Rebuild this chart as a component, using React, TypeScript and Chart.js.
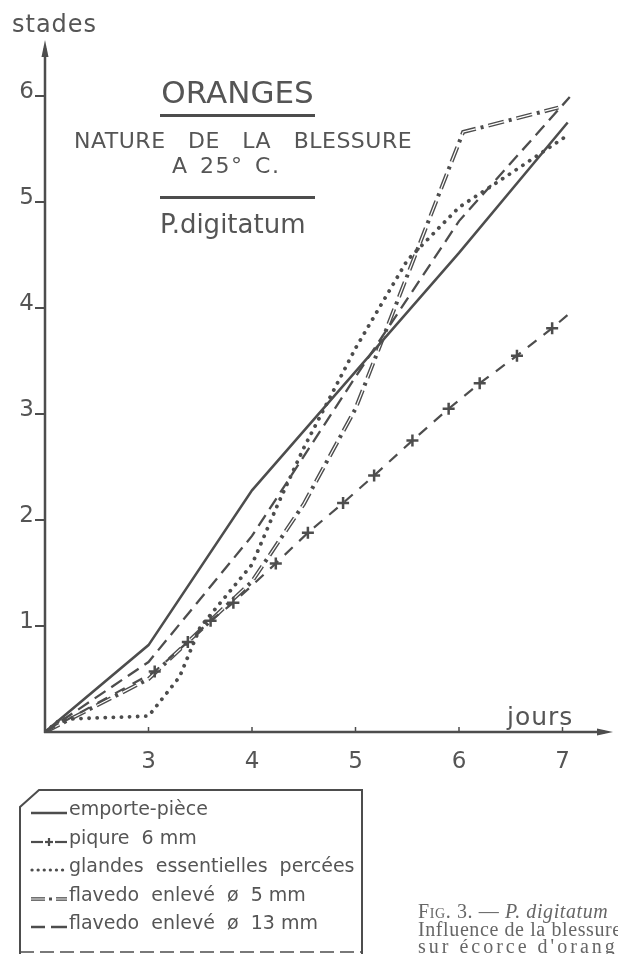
import React, { useEffect, useRef } from "react";
import { Chart, registerables } from "chart.js";

Chart.register(...registerables);

// ---------- data (days, stades) ----------
const X_TICKS = [3, 4, 5, 6, 7];
const Y_TICKS = [1, 2, 3, 4, 5, 6];

const emporteDays = [2, 3, 4, 5, 6, 7.05];
const emporteStades = [0, 0.82, 2.28, 3.4, 4.52, 5.75];

const piqureDays = [2, 3.06, 3.38, 3.6, 3.82, 4.23, 4.54, 4.88, 5.18, 5.55, 5.9, 6.2, 6.56, 6.9, 7.08];
const piqureStades = [0, 0.57, 0.85, 1.05, 1.22, 1.59, 1.88, 2.16, 2.42, 2.75, 3.05, 3.29, 3.55, 3.81, 3.96];

const glandesDays = [2, 2.15, 3, 3.3, 3.5, 4, 4.25, 4.5, 5, 5.5, 6, 6.5, 7.05];
const glandesStades = [0, 0.12, 0.15, 0.52, 0.99, 1.58, 2.15, 2.68, 3.62, 4.45, 4.95, 5.27, 5.63];

const flavedo5Days = [2, 3, 4, 4.5, 5, 6.04, 6.96];
const flavedo5Stades = [0, 0.5, 1.42, 2.15, 3.05, 5.66, 5.89];

const flavedo13Days = [2, 3, 4, 5, 6, 7.07];
const flavedo13Stades = [0, 0.66, 1.85, 3.35, 4.82, 5.99];

const LEGEND_LABELS = [
  "emporte-pièce",
  "piqure  6 mm",
  "glandes  essentielles  percées",
  "flavedo  enlevé  ø  5 mm",
  "flavedo  enlevé  ø  13 mm",
];

const INK = "#4d4d4d";
const TEXT = "#555555";
const FONT = "'DejaVu Sans', sans-serif";

const CANVAS_W = 618;
const CANVAS_H = 790;
const AREA_LEFT = 45;
const AREA_TOP = 40;
const AREA_BOTTOM = 732;
const AREA_RIGHT = 613;
const X_MIN = 2;
const X_MAX = 2 + (AREA_RIGHT - AREA_LEFT) / 103.5;
const Y_MAX = (AREA_BOTTOM - AREA_TOP) / 106;

const pts = (xs: number[], ys: number[]) => xs.map((x, i) => ({ x, y: ys[i] }));

const axisPlugin = {
  id: "axisArrows",
  afterDraw(chart: any) {
    const { ctx, scales } = chart;
    const xs = scales.x;
    const ys = scales.y;
    const x0 = xs.left;
    const y0 = ys.bottom;
    ctx.save();
    ctx.strokeStyle = INK;
    ctx.fillStyle = INK;
    ctx.lineWidth = 2.5;
    ctx.lineCap = "butt";
    ctx.beginPath();
    ctx.moveTo(x0 - 1, y0);
    ctx.lineTo(xs.right - 8, y0);
    ctx.stroke();
    ctx.beginPath();
    ctx.moveTo(x0, y0 + 1);
    ctx.lineTo(x0, ys.top + 8);
    ctx.stroke();
    // arrow heads
    ctx.beginPath();
    ctx.moveTo(xs.right, y0);
    ctx.lineTo(xs.right - 16, y0 - 3.5);
    ctx.lineTo(xs.right - 16, y0 + 3.5);
    ctx.closePath();
    ctx.fill();
    ctx.beginPath();
    ctx.moveTo(x0, ys.top);
    ctx.lineTo(x0 - 3.5, ys.top + 17);
    ctx.lineTo(x0 + 3.5, ys.top + 17);
    ctx.closePath();
    ctx.fill();
    // small upward tick marks on x axis
    ctx.lineWidth = 1.5;
    X_TICKS.forEach((v) => {
      const px = xs.getPixelForValue(v);
      ctx.beginPath();
      ctx.moveTo(px, y0);
      ctx.lineTo(px, y0 - 5);
      ctx.stroke();
    });
    ctx.restore();
  },
};

function ChartCanvas() {
  const ref = useRef<HTMLCanvasElement | null>(null);
  useEffect(() => {
    if (!ref.current) return;
    const lastIdx = piqureDays.length - 1;
    const chart = new Chart(ref.current, {
      type: "scatter",
      data: {
        datasets: [
          {
            label: LEGEND_LABELS[0],
            data: pts(emporteDays, emporteStades),
            showLine: true,
            borderColor: INK,
            borderWidth: 2.5,
            pointRadius: 0,
            order: 0,
          },
          {
            label: LEGEND_LABELS[1],
            data: pts(piqureDays, piqureStades),
            showLine: true,
            borderColor: INK,
            borderWidth: 2.2,
            borderDash: [11, 9],
            pointStyle: "cross",
            pointRadius: (c: any) => (c.dataIndex === 0 || c.dataIndex === lastIdx ? 0 : 6),
            pointBorderColor: INK,
            pointBorderWidth: 2.5,
            pointBackgroundColor: INK,
            order: 0,
          },
          {
            label: LEGEND_LABELS[2],
            data: pts(glandesDays, glandesStades),
            showLine: true,
            borderColor: INK,
            borderWidth: 3.8,
            borderDash: [0.1, 8],
            borderCapStyle: "round",
            pointRadius: 0,
            order: 0,
          },
          {
            label: LEGEND_LABELS[3],
            data: pts(flavedo5Days, flavedo5Stades),
            showLine: true,
            borderColor: INK,
            borderWidth: 4,
            borderDash: [16, 5, 3, 5],
            pointRadius: 0,
            order: 2,
          },
          {
            label: "_inner",
            data: pts(flavedo5Days, flavedo5Stades),
            showLine: true,
            borderColor: "#ffffff",
            borderWidth: 1.2,
            borderDash: [16, 13],
            pointRadius: 0,
            order: 1,
          },
          {
            label: LEGEND_LABELS[4],
            data: pts(flavedo13Days, flavedo13Stades),
            showLine: true,
            borderColor: INK,
            borderWidth: 2.3,
            borderDash: [13, 7],
            pointRadius: 0,
            order: 0,
          },
        ],
      },
      options: {
        animation: false,
        responsive: false,
        events: [],
        layout: { padding: { top: AREA_TOP, right: CANVAS_W - AREA_RIGHT, left: 0, bottom: 0 } },
        plugins: { legend: { display: false }, tooltip: { enabled: false }, title: { display: false } },
        scales: {
          x: {
            type: "linear",
            min: X_MIN,
            max: X_MAX,
            border: { display: false },
            grid: { display: false, drawTicks: false },
            afterBuildTicks: (s: any) => {
              s.ticks = X_TICKS.map((v) => ({ value: v }));
            },
            afterFit: (s: any) => {
              s.height = CANVAS_H - AREA_BOTTOM;
            },
            ticks: {
              color: TEXT,
              font: { family: FONT, size: 23 },
              padding: 16,
              maxRotation: 0,
              autoSkip: false,
              callback: (v: any) => String(v),
            },
          },
          y: {
            type: "linear",
            min: 0,
            max: Y_MAX,
            border: { display: false },
            grid: {
              display: true,
              drawOnChartArea: false,
              drawTicks: true,
              tickLength: 10,
              color: INK,
              lineWidth: 2,
            },
            afterBuildTicks: (s: any) => {
              s.ticks = Y_TICKS.map((v) => ({ value: v }));
            },
            afterFit: (s: any) => {
              s.width = AREA_LEFT;
            },
            ticks: {
              color: TEXT,
              font: { family: FONT, size: 23 },
              padding: 1,
              labelOffset: -4,
              autoSkip: false,
              callback: (v: any) => String(v),
            },
          },
        },
      } as any,
      plugins: [axisPlugin],
    });
    return () => chart.destroy();
  }, []);
  return (
    <canvas
      ref={ref}
      width={CANVAS_W}
      height={CANVAS_H}
      style={{ position: "absolute", left: 0, top: 0, width: CANVAS_W, height: CANVAS_H }}
    />
  );
}

const abs = (left: number, top: number, extra: React.CSSProperties = {}): React.CSSProperties => ({
  position: "absolute",
  left,
  top,
  whiteSpace: "pre",
  fontFamily: FONT,
  color: TEXT,
  lineHeight: 1,
  ...extra,
});

function Sample({ kind }: { kind: number }) {
  const y = 9;
  const common = { stroke: INK, fill: "none" } as any;
  return (
    <svg width={40} height={14} style={{ display: "block" }}>
      {kind === 0 && <line x1={2} y1={y} x2={38} y2={y} {...common} strokeWidth={2.5} />}
      {kind === 1 && (
        <g>
          <line x1={2} y1={y} x2={14} y2={y} {...common} strokeWidth={2.2} />
          <line x1={26} y1={y} x2={38} y2={y} {...common} strokeWidth={2.2} />
          <line x1={16} y1={y} x2={24} y2={y} {...common} strokeWidth={2.2} />
          <line x1={20} y1={y - 4} x2={20} y2={y + 4} {...common} strokeWidth={2.2} />
        </g>
      )}
      {kind === 2 && (
        <line x1={3} y1={y} x2={38} y2={y} {...common} strokeWidth={3.2} strokeDasharray="0.1 6" strokeLinecap="round" />
      )}
      {kind === 3 && (
        <g>
          <line x1={2} y1={y} x2={16} y2={y} {...common} strokeWidth={3.6} />
          <line x1={2} y1={y} x2={16} y2={y} stroke="#fff" strokeWidth={1} />
          <line x1={20} y1={y} x2={23} y2={y} {...common} strokeWidth={3} />
          <line x1={27} y1={y} x2={38} y2={y} {...common} strokeWidth={3.6} />
          <line x1={27} y1={y} x2={38} y2={y} stroke="#fff" strokeWidth={1} />
        </g>
      )}
      {kind === 4 && (
        <g>
          <line x1={2} y1={y} x2={16} y2={y} {...common} strokeWidth={2.5} />
          <line x1={22} y1={y} x2={38} y2={y} {...common} strokeWidth={2.5} />
        </g>
      )}
    </svg>
  );
}

export default function App() {
  return (
    <div
      style={{
        position: "absolute",
        left: 0,
        top: 0,
        width: 618,
        height: 954,
        overflow: "hidden",
        background: "#ffffff",
      }}
    >
      <ChartCanvas />

      {/* axis titles */}
      <div style={abs(12, 12, { fontSize: 24, letterSpacing: 1 })}>stades</div>
      <div style={abs(507, 704, { fontSize: 25, letterSpacing: 1 })}>jours</div>

      {/* title block */}
      <div style={abs(160, 77, { fontSize: 31, width: 155, textAlign: "center" })}>ORANGES</div>
      <div style={{ position: "absolute", left: 160, top: 114, width: 155, height: 2.5, background: INK }} />
      <div style={abs(74, 130, { fontSize: 22, letterSpacing: 0.5, wordSpacing: 15 })}>NATURE DE LA BLESSURE</div>
      <div style={abs(172, 155, { fontSize: 22, letterSpacing: 1.5, wordSpacing: 3 })}>A 25° C.</div>
      <div style={{ position: "absolute", left: 160, top: 196, width: 155, height: 2.5, background: INK }} />
      <div style={abs(160, 211, { fontSize: 26 })}>P.digitatum</div>

      {/* legend box */}
      <svg width={618} height={954} style={{ position: "absolute", left: 0, top: 0, pointerEvents: "none" }}>
        <polyline
          points="20,960 20,807 39,790 362,790 362,960"
          fill="none"
          stroke={INK}
          strokeWidth={2}
        />
        <line x1={20} y1={952} x2={362} y2={952} stroke={INK} strokeWidth={1.5} strokeDasharray="14 6" />
      </svg>
      {LEGEND_LABELS.map((lab, i) => (
        <div key={lab} style={abs(29, 799 + i * 28.5, { fontSize: 19, display: "flex", alignItems: "flex-end" })}>
          <Sample kind={i} />
          <span>{lab}</span>
        </div>
      ))}

      {/* caption */}
      <div
        style={{
          position: "absolute",
          left: 418,
          top: 903,
          fontFamily: "'Liberation Serif', serif",
          fontSize: 20,
          lineHeight: "17.5px",
          letterSpacing: 0.6,
          color: "#666",
          whiteSpace: "pre",
        }}
      >
        <div>
          <span style={{ fontVariant: "small-caps" }}>Fig.</span> 3. — <i>P. digitatum</i>
        </div>
        <div>Influence de la blessure</div>
        <div style={{ letterSpacing: 3 }}>sur écorce d'oranges</div>
      </div>
    </div>
  );
}
